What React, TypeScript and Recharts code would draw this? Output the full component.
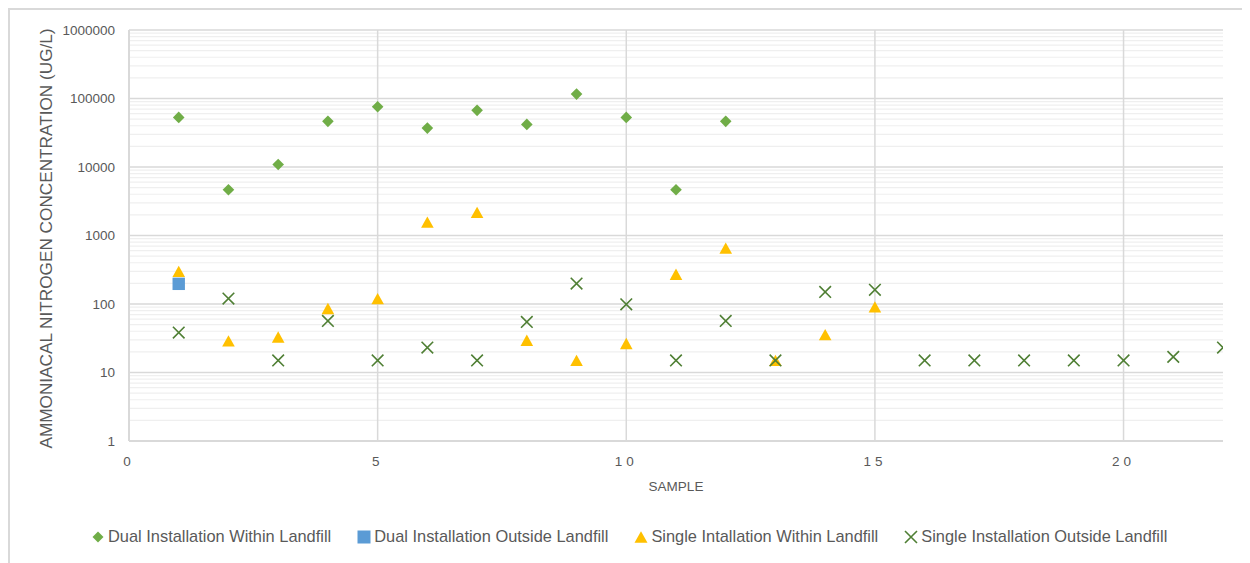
import React from 'react';
import { ScatterChart, Scatter, XAxis, YAxis, CartesianGrid, ReferenceLine, Legend, Label } from 'recharts';

// sample numbers and concentrations (ug/L)
const dualWithinX = [1, 2, 3, 4, 5, 6, 7, 8, 9, 10, 11, 12];
const dualWithinY = [53000, 4650, 10900, 46400, 75800, 37000, 67100, 41900, 116000, 53000, 4650, 46400];

const dualOutsideX = [1];
const dualOutsideY = [197];

const singleWithinX = [1, 2, 3, 4, 5, 6, 7, 8, 9, 10, 11, 12, 13, 14, 15];
const singleWithinY = [300, 29, 33, 86, 120, 1570, 2170, 29.6, 15, 26.5, 272, 653, 15, 35.8, 90.7];

const singleOutsideX = [1, 2, 3, 4, 5, 6, 7, 8, 9, 10, 11, 12, 13, 14, 15, 16, 17, 18, 19, 20, 21, 22];
const singleOutsideY = [38.3, 120, 15, 56.6, 15, 23.1, 15, 54.8, 199, 99, 15, 56.6, 15, 150, 161, 15, 15, 15, 15, 15, 16.9, 23.1];

const xTicks = [0, 5, 10, 15, 20];
const yTicks = [1, 10, 100, 1000, 10000, 100000, 1000000];
const minorSteps = [2, 3, 4, 5, 6, 7, 8, 9];
const verticalLines = [5, 10, 15, 20];

const FONT = '"Liberation Sans", Arial, sans-serif';
const TEXT = '#595959';

function pairs(xs: number[], ys: number[]) {
  return xs.map((x, i) => ({ x: x, y: ys[i] }));
}

function Diamond(props: any) {
  const { cx, cy } = props;
  const r = props.r || 5.8;
  return <path d={`M${cx},${cy - r}L${cx + r},${cy}L${cx},${cy + r}L${cx - r},${cy}Z`} fill="#70ad47" />;
}
function Square(props: any) {
  const { cx, cy } = props;
  const r = props.r || 6.2;
  return <rect x={cx - r} y={cy - r} width={r * 2} height={r * 2} fill="#5b9bd5" />;
}
function Triangle(props: any) {
  const { cx, cy } = props;
  const r = props.r || 6.3;
  const h = r * 1.8;
  return <path d={`M${cx},${cy - h / 2}L${cx + r},${cy + h / 2}L${cx - r},${cy + h / 2}Z`} fill="#ffc000" />;
}
function Cross(props: any) {
  const { cx, cy } = props;
  const r = props.r || 5.8;
  return (
    <path d={`M${cx - r},${cy - r}L${cx + r},${cy + r}M${cx + r},${cy - r}L${cx - r},${cy + r}`}
      stroke="#4f7f34" strokeWidth={1.6} fill="none" />
  );
}

const legendItems = [
  { name: 'Dual Installation Within Landfill', Shape: Diamond, r: 5.5 },
  { name: 'Dual Installation Outside Landfill', Shape: Square, r: 6.5 },
  { name: 'Single Intallation Within Landfill', Shape: Triangle, r: 6.5 },
  { name: 'Single Installation Outside Landfill', Shape: Cross, r: 6 },
];

function renderLegend() {
  return (
    <div style={{ display: 'flex', alignItems: 'center', fontFamily: FONT, fontSize: 16.4, color: TEXT, paddingLeft: 81, whiteSpace: 'nowrap' }}>
      {legendItems.map((item) => (
        <div key={item.name} style={{ display: 'flex', alignItems: 'center', marginRight: 26 }}>
          <svg width={14} height={16} style={{ marginRight: 3 }}>
            <item.Shape cx={7} cy={8} r={item.r} />
          </svg>
          <span>{item.name}</span>
        </div>
      ))}
    </div>
  );
}

export default function App() {
  const minorValues: number[] = [];
  for (let d = 1; d < 1000000; d *= 10) {
    for (let s of minorSteps) minorValues.push(s * d);
  }

  return (
    <div style={{ position: 'relative', width: 1240, height: 553, borderTop: '2px solid #d9d9d9', borderLeft: '2px solid #d9d9d9' }}>
      <ScatterChart width={1240} height={550} margin={{ top: 20, right: 27, left: 0, bottom: 59 }}>
        <CartesianGrid vertical={false} stroke="#d9d9d9" strokeWidth={1.5} />
        {minorValues.map((v) => (
          <ReferenceLine key={'m' + v} y={v} stroke="#efefef" strokeWidth={1.2} />
        ))}
        {verticalLines.map((v) => (
          <ReferenceLine key={'v' + v} x={v} stroke="#d9d9d9" strokeWidth={1.5} />
        ))}
        <XAxis type="number" dataKey="x" domain={[0, 22]} ticks={xTicks} height={60}
          axisLine={{ stroke: '#d9d9d9', strokeWidth: 2 }} tickLine={false} tickSize={0} tickMargin={15}
          tick={{ fill: TEXT, fontSize: 13.5, fontFamily: FONT, letterSpacing: 4 }} allowDataOverflow>
          <Label content={(p: any) => (
            <text x={p.viewBox.x + p.viewBox.width / 2} y={p.viewBox.y + 45} textAnchor="middle" dominantBaseline="central"
              fill={TEXT} fontSize={13.5} fontFamily={FONT}>SAMPLE</text>
          )} />
        </XAxis>
        <YAxis type="number" dataKey="y" scale="log" domain={[1, 1000000]} ticks={yTicks} width={119}
          axisLine={{ stroke: '#d9d9d9', strokeWidth: 2 }} tickLine={false} tickSize={0} tickMargin={14}
          tick={{ fill: TEXT, fontSize: 13.5, fontFamily: FONT }} allowDataOverflow>
          <Label content={(p: any) => {
            const cx = p.viewBox.x + 36;
            const cy = p.viewBox.y + p.viewBox.height / 2 + 3;
            return (
              <text x={cx} y={cy} transform={`rotate(-90 ${cx} ${cy})`} textAnchor="middle" dominantBaseline="central"
                fill={TEXT} fontSize={17.2} fontFamily={FONT}>AMMONIACAL NITROGEN CONCENTRATION (UG/L)</text>
            );
          }} />
        </YAxis>
        <Scatter name="Dual Installation Within Landfill" data={pairs(dualWithinX, dualWithinY)} shape={<Diamond />} isAnimationActive={false} />
        <Scatter name="Dual Installation Outside Landfill" data={pairs(dualOutsideX, dualOutsideY)} shape={<Square />} isAnimationActive={false} />
        <Scatter name="Single Intallation Within Landfill" data={pairs(singleWithinX, singleWithinY)} shape={<Triangle />} isAnimationActive={false} />
        <Scatter name="Single Installation Outside Landfill" data={pairs(singleOutsideX, singleOutsideY)} shape={<Cross />} isAnimationActive={false} />
        <Legend layout="horizontal" verticalAlign="middle" align="center" content={renderLegend}
          wrapperStyle={{ position: 'absolute', top: 517, left: 0, width: 1240, height: 20 }} />
      </ScatterChart>
    </div>
  );
}
